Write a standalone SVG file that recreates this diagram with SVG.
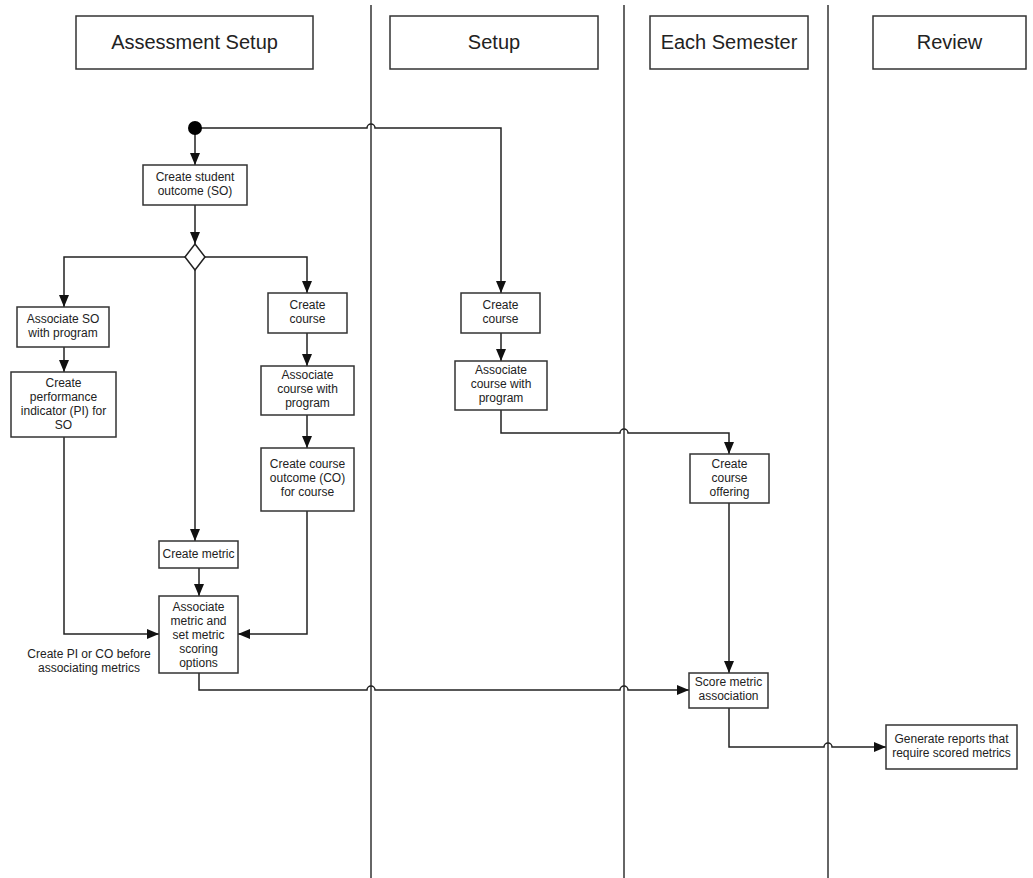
<svg xmlns="http://www.w3.org/2000/svg" width="1033" height="878" viewBox="0 0 1033 878">
<style>
.box{fill:#fff;stroke:#333;stroke-width:1.5}
.hd{font-family:"Liberation Sans",Arial,sans-serif;font-size:20px;fill:#222;text-anchor:middle}
.t{font-family:"Liberation Sans",Arial,sans-serif;font-size:12px;fill:#222;text-anchor:middle}
.lane{stroke:#333;stroke-width:1.5;fill:none}
.c{stroke:#222;stroke-width:1.5;fill:none}
</style>
<defs>
<marker id="ah" viewBox="0 0 12 10" refX="12" refY="5" markerWidth="12" markerHeight="10" markerUnits="userSpaceOnUse" orient="auto">
<path d="M0,0 L12,5 L0,10 z" fill="#111"/>
</marker>
</defs>
<rect width="1033" height="878" fill="#fff"/>
<g id="lanes">
<line class="lane" x1="371" y1="5" x2="371" y2="878"/>
<line class="lane" x1="624" y1="5" x2="624" y2="878"/>
<line class="lane" x1="828" y1="5" x2="828" y2="878"/>
</g>
<g id="headers">
<g id="h1"><rect class="box" x="76" y="16" width="237" height="53"/><text class="hd" x="194.5" y="49">Assessment Setup</text></g>
<g id="h2"><rect class="box" x="390" y="16" width="208" height="53"/><text class="hd" x="494" y="49">Setup</text></g>
<g id="h3"><rect class="box" x="650" y="16" width="158" height="53"/><text class="hd" x="729" y="49">Each Semester</text></g>
<g id="h4"><rect class="box" x="873" y="16" width="153" height="53"/><text class="hd" x="949.5" y="49">Review</text></g>
</g>
<g id="connectors">
<path class="c" d="M195,128 V165" marker-end="url(#ah)"/>
<path class="c" d="M195,128 H367 A4,4 0 0 1 375,128 H501 V293" marker-end="url(#ah)"/>
<path class="c" d="M195,205 V244" marker-end="url(#ah)"/>
<path class="c" d="M185,257 H64 V307" marker-end="url(#ah)"/>
<path class="c" d="M205,257 H307 V293" marker-end="url(#ah)"/>
<path class="c" d="M195,270 V541" marker-end="url(#ah)"/>
<path class="c" d="M64,347 V372" marker-end="url(#ah)"/>
<path class="c" d="M307,333 V366" marker-end="url(#ah)"/>
<path class="c" d="M307,415 V448" marker-end="url(#ah)"/>
<path class="c" d="M199,568 V596" marker-end="url(#ah)"/>
<path class="c" d="M64,437 V634 H159" marker-end="url(#ah)"/>
<path class="c" d="M307,511 V634 H238" marker-end="url(#ah)"/>
<path class="c" d="M501,333 V361" marker-end="url(#ah)"/>
<path class="c" d="M501,410 V433 H620 A4,4 0 0 1 628,433 H729 V454" marker-end="url(#ah)"/>
<path class="c" d="M729,503 V673" marker-end="url(#ah)"/>
<path class="c" d="M199,673 V690 H367 A4,4 0 0 1 375,690 H620 A4,4 0 0 1 628,690 H689" marker-end="url(#ah)"/>
<path class="c" d="M729,708 V747 H824 A4,4 0 0 1 832,747 H886" marker-end="url(#ah)"/>
</g>
<g id="start"><circle cx="195" cy="128" r="7" fill="#000"/></g>
<g id="n_so"><rect class="box" x="143" y="165" width="104" height="40"/><text class="t" x="195" y="181">Create student</text><text class="t" x="195" y="195">outcome (SO)</text></g>
<g id="decision"><path d="M195,244 L205,257 L195,270 L185,257 z" fill="#fff" stroke="#222" stroke-width="1.5"/></g>
<g id="n_assoc_so"><rect class="box" x="17" y="307" width="92" height="40"/><text class="t" x="63" y="323">Associate SO</text><text class="t" x="63" y="337">with program</text></g>
<g id="n_pi"><rect class="box" x="11" y="372" width="105" height="65"/><text class="t" x="63.5" y="387">Create</text><text class="t" x="63.5" y="401">performance</text><text class="t" x="63.5" y="415">indicator (PI) for</text><text class="t" x="63.5" y="429">SO</text></g>
<g id="n_course1"><rect class="box" x="268" y="293" width="79" height="40"/><text class="t" x="307.5" y="309">Create</text><text class="t" x="307.5" y="323">course</text></g>
<g id="n_acp1"><rect class="box" x="261" y="366" width="93" height="49"/><text class="t" x="307.5" y="379">Associate</text><text class="t" x="307.5" y="393">course with</text><text class="t" x="307.5" y="407">program</text></g>
<g id="n_co"><rect class="box" x="261" y="448" width="93" height="63"/><text class="t" x="307.5" y="468">Create course</text><text class="t" x="307.5" y="482">outcome (CO)</text><text class="t" x="307.5" y="496">for course</text></g>
<g id="n_metric"><rect class="box" x="159" y="541" width="79" height="27"/><text class="t" x="198.5" y="558">Create metric</text></g>
<g id="n_assoc_metric"><rect class="box" x="159" y="596" width="79" height="77"/><text class="t" x="198.5" y="611">Associate</text><text class="t" x="198.5" y="625">metric and</text><text class="t" x="198.5" y="639">set metric</text><text class="t" x="198.5" y="653">scoring</text><text class="t" x="198.5" y="667">options</text></g>
<g id="note"><text class="t" x="89" y="658">Create PI or CO before</text><text class="t" x="89" y="672">associating metrics</text></g>
<g id="n_course2"><rect class="box" x="461" y="293" width="79" height="40"/><text class="t" x="500.5" y="309">Create</text><text class="t" x="500.5" y="323">course</text></g>
<g id="n_acp2"><rect class="box" x="455" y="361" width="92" height="49"/><text class="t" x="501" y="374">Associate</text><text class="t" x="501" y="388">course with</text><text class="t" x="501" y="402">program</text></g>
<g id="n_offering"><rect class="box" x="690" y="454" width="79" height="49"/><text class="t" x="729.5" y="468">Create</text><text class="t" x="729.5" y="482">course</text><text class="t" x="729.5" y="496">offering</text></g>
<g id="n_score"><rect class="box" x="689" y="673" width="79" height="35"/><text class="t" x="728.5" y="686">Score metric</text><text class="t" x="728.5" y="700">association</text></g>
<g id="n_reports"><rect class="box" x="886" y="725" width="131" height="44"/><text class="t" x="951.5" y="743">Generate reports that</text><text class="t" x="951.5" y="757">require scored metrics</text></g>
</svg>
